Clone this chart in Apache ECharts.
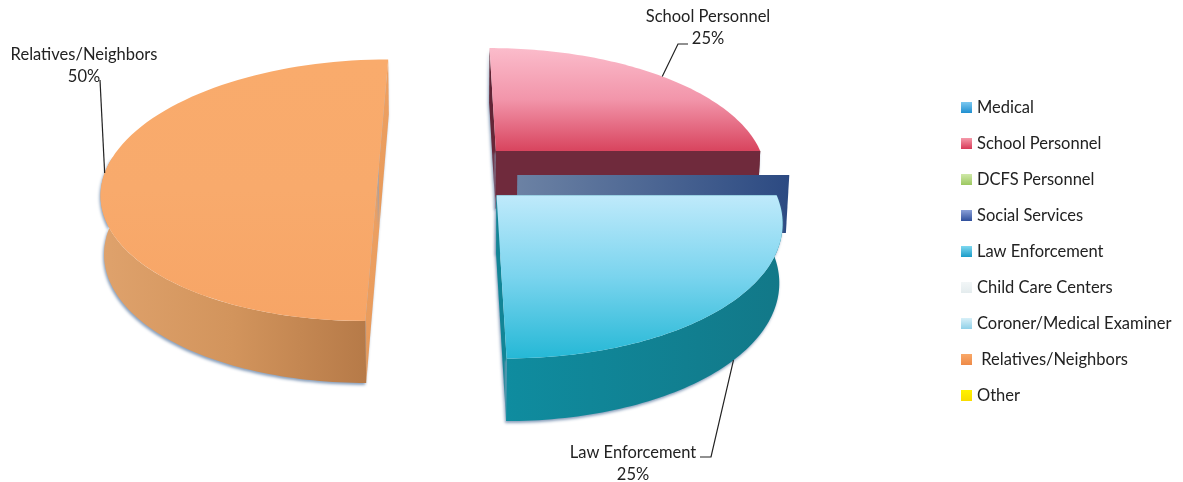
<!DOCTYPE html>
<html><head><meta charset="utf-8">
<style>html,body{margin:0;padding:0;background:#fff}#c{width:1183px;height:482px}</style>
<script src="https://cdn.jsdelivr.net/npm/echarts@6/dist/echarts.min.js"></script>
</head><body><div id="c"></div>
<script>
const categories=['Medical','School Personnel','DCFS Personnel','Social Services','Law Enforcement','Child Care Centers','Coroner/Medical Examiner','Relatives/Neighbors','Other'];
const values=[0,25,0,0,25,0,0,50,0];
const legendColors=[['#7cc8f0','#1f8fd0'],['#f59aaa','#d83a58'],['#cfe8a8','#9cc860'],['#8aa0d8','#2f4f9c'],['#7fd8f0','#1a9cc8'],['#f2f6f7','#e4ecee'],['#d8f0f8','#8fd0e8'],['#f9a868','#ee8a48'],['#fff200','#f8dc00']];

const CX=450,CY=173,RX=272,RY=127,K=0.17,EXPLODE=0.24,H=58,CONVERGE=0.99;
const total=values.reduce((a,b)=>a+b,0);
const starts=[];values.reduce((a,v,i)=>{starts[i]=a;return a+v/total*360;},0);
const looks={
 'School Personnel':{dx:1,dy:-1,cap:['#fbbccb','#f295aa','#d8445e'],wall:['#6f2a3c','#6f2a3c'],face:['#5a2232','#6f2a3c']},
 'Law Enforcement':{dx:-1,dy:0,cap:['#bfeafb','#7ad4ee','#25b8d6'],wall:['#0f8c9f','#127888'],face:['#128596','#128596']},
 'Relatives/Neighbors':{dx:-6,dy:-5,cap:['#f9ab6c','#f8aa6c','#f7a566'],wall:['#dfa26c','#d2945c','#b67a48'],face:['#eea163','#e79a5a']}
};
const flatFaces={'Social Services':{dx:2,dy:2,fill:['#6c82a4','#2c4a82']}};
const leaders={
 'School Personnel':{at:0.51,via:[[678,44],[688,44]],tx:708,ty:28},
 'Law Enforcement':{at:0.48,wall:true,via:[[711,457],[700,457]],tx:633,ty:464},
 'Relatives/Neighbors':{at:0.485,via:[[100,80]],tx:84,ty:66}
};
function proj(X,Y,dx,dy){const s=1/(1-K*Y);return {x:CX+RX*X*s+dx,y:CY+RY*Y*s+dy,s};}
function ptAt(deg,mid,dx,dy,r){const a=deg*Math.PI/180,m=mid*Math.PI/180;
  return proj(r*Math.sin(a)+EXPLODE*Math.sin(m),-r*Math.cos(a)-EXPLODE*Math.cos(m),dx,dy);}
function low(p){return {x:CX+(p.x-CX)*CONVERGE,y:p.y+H*Math.pow(p.s,0.35),s:p.s};}
const xy=p=>[p.x,p.y];
const grad=(c,h)=>{const n=c.length-1;return new echarts.graphic.LinearGradient(0,0,h?1:0,h?0:1,c.map((v,i)=>({offset:i/n,color:v})));};
const poly=(pts,fill,extra)=>({type:'polygon',shape:{points:pts.map(xy)},style:Object.assign({fill},extra||{})});
const SH={shadowBlur:3,shadowOffsetX:-1,shadowOffsetY:2,shadowColor:'#8aa0bc'};

function makeItem(i){return function(){
  const name=categories[i],v=values[i],children=[];
  const a0=starts[i],a1=a0+v/total*360,mid=(a0+a1)/2;
  if(v===0){
    const f=flatFaces[name]; if(!f) return {type:'group',children};
    const A=ptAt(a0,mid,f.dx,f.dy,0),T=ptAt(a0,mid,f.dx,f.dy,1);
    children.push(poly([A,T,low(T),low(A)],grad(f.fill,true)));
    return {type:'group',children};
  }
  const L=looks[name],arc=[],N=80;
  for(let k=0;k<=N;k++) arc.push(ptAt(a0+(a1-a0)*k/N,mid,L.dx,L.dy,1));
  const apexPt=ptAt(mid,mid,L.dx,L.dy,0);
  const first=arc[0],last=arc[N];
  children.push(poly([first,low(first),low(apexPt),apexPt],grad(L.face),SH));
  children.push(poly([apexPt,low(apexPt),low(last),last],grad(L.face),SH));
  const wallFrom=Math.max(a0,90),wallTo=Math.min(a1,275);
  if(wallTo>wallFrom){
    const top=[];for(let k=0;k<=N;k++) top.push(ptAt(wallFrom+(wallTo-wallFrom)*k/N,mid,L.dx,L.dy,1));
    children.push(poly(top.concat(top.map(low).reverse()),grad(L.wall,true),SH));
  }
  children.push(poly([apexPt].concat(arc),grad(L.cap)));
  if(name==='School Personnel'){
    children.push(poly([apexPt,last,low(last),low(apexPt)],L.wall[0]));
  }
  const ld=leaders[name];let s=arc[Math.round(ld.at*N)];if(ld.wall)s=low(s);
  children.push({type:'polyline',shape:{points:[xy(s)].concat(ld.via)},style:{stroke:'#222',lineWidth:1.2,fill:null}});
  children.push({type:'text',x:ld.tx,y:ld.ty,style:{text:name+'\n'+Math.round(v/total*100)+'%',align:'center',verticalAlign:'middle',font:'16.5px Lato',lineHeight:22,fill:'#222'}});
  return {type:'group',children};
};}
const order=[7,1,3,4,0,2,5,6,8];
const series=order.map(i=>({name:categories[i],type:'custom',coordinateSystem:'none',silent:true,animation:false,
  itemStyle:{color:legendColors[i][1]},data:[values[i]],renderItem:makeItem(i)}));
const chart=echarts.init(document.getElementById('c'),null,{renderer:'canvas'});
chart.setOption({animation:false,backgroundColor:'#fff',
 legend:{orient:'vertical',left:961,top:99,padding:0,itemWidth:11,itemHeight:11,itemGap:19,icon:'rect',
  selectedMode:false,
  formatter:n=>n==='Relatives/Neighbors'?' '+n:n,
  textStyle:{fontFamily:'Lato',fontSize:16.5,color:'#222'},
  data:categories.map((n,i)=>({name:n,itemStyle:{color:new echarts.graphic.LinearGradient(0,0,0,1,[{offset:0,color:legendColors[i][0]},{offset:1,color:legendColors[i][1]}])}}))},
 series});
</script></body></html>
